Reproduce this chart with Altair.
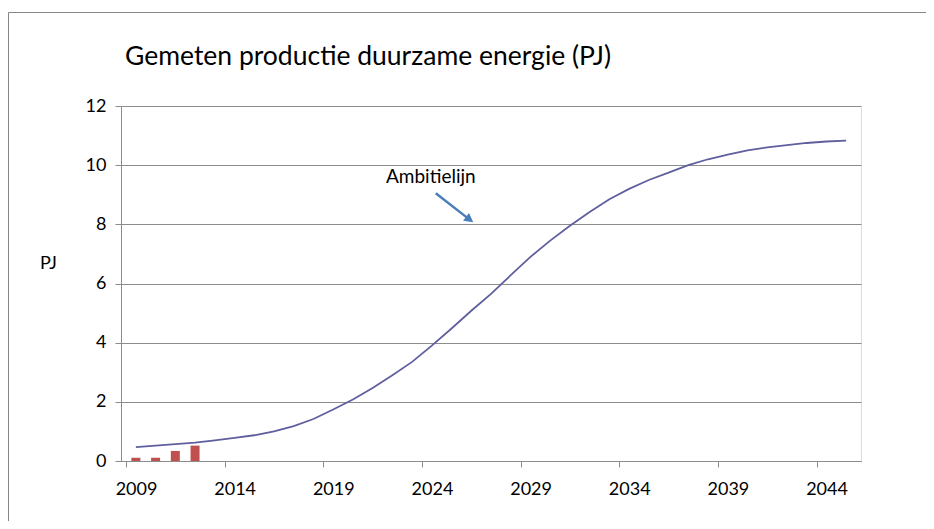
import altair as alt
import pandas as pd

# ---- data ----
years = list(range(2009, 2046))
ambitie = [0.47, 0.52, 0.57, 0.62, 0.70, 0.78, 0.87, 1.00, 1.18, 1.42,
           1.74, 2.08, 2.47, 2.90, 3.35, 3.90, 4.48, 5.08, 5.65, 6.28,
           6.90, 7.45, 7.95, 8.42, 8.85, 9.20, 9.50, 9.75, 10.00, 10.20,
           10.36, 10.50, 10.60, 10.68, 10.75, 10.80, 10.83]
bar_years = [2009, 2010, 2011, 2012]
gemeten = [0.11, 0.11, 0.34, 0.52]
x_tick_values = [2008.5, 2013.5, 2018.5, 2023.5, 2028.5, 2033.5, 2038.5, 2043.5]
y_tick_values = [0, 2, 4, 6, 8, 10, 12]

ann_label = ["Ambitielijn"]
ann_label_x = [2023.95]
ann_label_y = [9.59]
arrow_x = [2024.2]
arrow_y = [9.05]
arrow_x2 = [2025.82]
arrow_y2 = [8.21]
arrow_tip_x = [2026.1]
arrow_tip_y = [8.07]

FONT = "Lato"
GRID = "#8c8c8c"

line_df = pd.DataFrame({"jaar": years, "pj": ambitie})
bar_df = pd.DataFrame({"jaar": bar_years, "pj": gemeten})
ann_df = pd.DataFrame({"label": ann_label, "x": ann_label_x, "y": ann_label_y})
arrow_df = pd.DataFrame({"x": arrow_x, "y": arrow_y, "x2": arrow_x2, "y2": arrow_y2})
tip_df = pd.DataFrame({"x": arrow_tip_x, "y": arrow_tip_y})
frame_df = pd.DataFrame({"a": [0]})

x_scale = alt.Scale(domain=[2008.5, 2045.5], nice=False, zero=False)
y_scale = alt.Scale(domain=[0, 12], nice=False)

x_axis = alt.Axis(values=x_tick_values, labelExpr="format(datum.value + 0.5, 'd')",
                  labelOffset=10, grid=False, title=None, tickSize=6,
                  labelPadding=13, labelFont=FONT, labelFontSize=18,
                  labelColor="black", domainColor=GRID, tickColor=GRID)
y_axis = alt.Axis(values=y_tick_values, grid=True, gridColor=GRID, title="PJ",
                  titleAngle=0, titleX=-73, titleY=157, titleAlign="center",
                  titleBaseline="middle", titleFont=FONT, titleFontSize=18,
                  titleFontWeight="normal", titleColor="black",
                  tickSize=6, labelPadding=9, labelFont=FONT, labelFontSize=18,
                  labelColor="black", domainColor=GRID, tickColor=GRID)

frame = alt.Chart(frame_df).mark_rect(fill=None, stroke="#868686", strokeWidth=1,
                                      clip=False).encode(
    x=alt.value(-112.5), y=alt.value(-93.5), x2=alt.value(1200), y2=alt.value(1000))

bars = alt.Chart(bar_df).mark_bar(size=9, color="#c0504d").encode(
    x=alt.X("jaar:Q", scale=x_scale, axis=x_axis),
    y=alt.Y("pj:Q", scale=y_scale, axis=y_axis),
)

line = alt.Chart(line_df).mark_line(color="#5f5f9f", strokeWidth=1.8).encode(
    x=alt.X("jaar:Q", scale=x_scale),
    y=alt.Y("pj:Q", scale=y_scale),
)

text = alt.Chart(ann_df).mark_text(font=FONT, fontSize=19, color="black",
                                   align="center", baseline="middle").encode(
    x=alt.X("x:Q", scale=x_scale), y=alt.Y("y:Q", scale=y_scale), text="label:N")

arrow = alt.Chart(arrow_df).mark_rule(color="#4a7ebb", strokeWidth=2.5).encode(
    x=alt.X("x:Q", scale=x_scale), y=alt.Y("y:Q", scale=y_scale),
    x2="x2:Q", y2="y2:Q")

tip = alt.Chart(tip_df).mark_point(shape="M0,0L-0.55,1L0.55,1Z", filled=True,
                                   color="#4a7ebb", size=324, angle=127,
                                   opacity=1).encode(
    x=alt.X("x:Q", scale=x_scale), y=alt.Y("y:Q", scale=y_scale))

chart = alt.layer(frame, bars, line, text, arrow, tip).properties(
    width=740, height=355,
    autosize=alt.AutoSizeParams(type="none"),
    padding={"left": 113, "top": 98, "right": 65, "bottom": 60},
    title=alt.TitleParams("Gemeten productie duurzame energie (PJ)", anchor="start",
                          font=FONT, fontSize=26.5, fontWeight="normal",
                          color="black", offset=-58, dx=117),
).configure_view(stroke=None).configure(background="white")

chart.save("out.html", embed_options={"renderer": "svg", "actions": False})
